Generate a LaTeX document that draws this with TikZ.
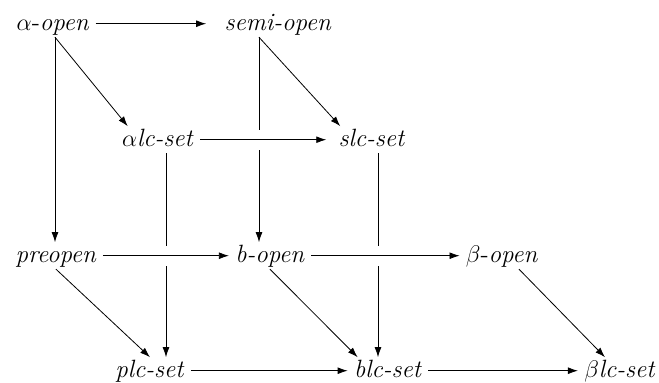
\documentclass[tikz,border=0pt]{standalone}
\usepackage{amsmath,amssymb}
\usepackage{tikz}
\usetikzlibrary{arrows.meta}

\begin{document}
\begin{tikzpicture}[x=0.5pt,y=-0.5pt,>={Latex[length=5pt,width=3.4pt]},
  every node/.style={inner xsep=3pt,inner ysep=1pt,text height=8.7pt,text depth=2.4pt,
    font=\fontsize{12.5}{15}\selectfont},
  gap/.style={preaction={draw=white,line width=10pt,-}}]
  \useasboundingbox (0,0) rectangle (659,382);
  % nodes
  \node (ao) at (53,23.7) {$\alpha$-\textit{open}};
  \node (so) at (278,23.7) {\textit{semi-open}};
  \node (al) at (158,139.7) {$\alpha$\textit{lc-set}};
  \node (sl) at (372,139.7) {\textit{slc-set}};
  \node (po) at (56,255.7) {\textit{preopen}};
  \node (bo) at (270,255.7) {\textit{b-open}};
  \node (be) at (502,255.7) {$\beta$-\textit{open}};
  \node (pl) at (150,370.7) {\textit{plc-set}};
  \node (bl) at (388,370.7) {\textit{blc-set}};
  \node (bb) at (620,370.7) {$\beta$\textit{lc-set}};
  \coordinate (ao1) at ([xshift=1pt]ao.south);
  \coordinate (so1) at ([xshift=-9.5pt]so.south);
  \coordinate (al1) at ([xshift=4pt]al.south);
  \coordinate (sl1) at ([xshift=3pt]sl.south);
  % vertical arrows, cut where the rows cross them
  \draw[->] (so1) -- (so1 |- bo.north);
  \draw[->] (al1) -- (al1 |- pl.north);
  \draw[->] (sl1) -- (sl1 |- bl.north);
  \draw[->] (ao1) -- (ao1 |- po.north);
  % rows
  \draw[->,gap,shorten >=3pt] (al) -- (sl);
  \draw[->,gap] (po) -- (bo);
  \draw[->,gap] (bo) -- (be);
  \draw[->,shorten >=6pt] (ao) -- (so);
  \draw[->] (pl) -- (bl);
  \draw[->] (bl) -- (bb);
  % diagonals
  \draw[->] (ao1) -- ([xshift=6pt]al.north west);
  \draw[->] (so1) -- ([xshift=4pt]sl.north west);
  \draw[->] (po.south) -- (pl.north);
  \draw[->] (bo.south) -- ([xshift=5pt]bl.north west);
  \draw[->] ([xshift=8.5pt]be.south) -- ([xshift=-7.5pt]bb.north);
\end{tikzpicture}
\end{document}
